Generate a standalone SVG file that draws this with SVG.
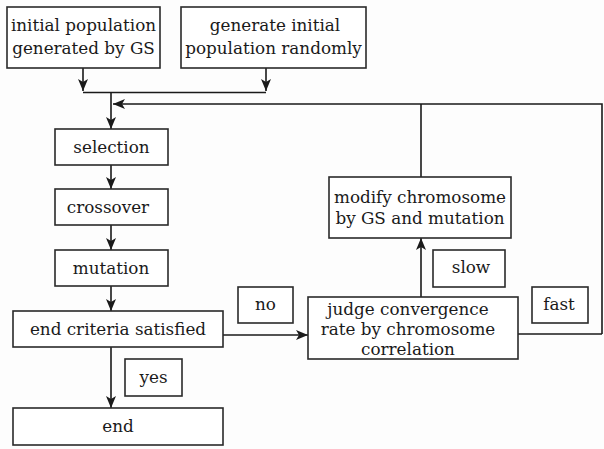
<svg xmlns="http://www.w3.org/2000/svg" width="604" height="449" viewBox="0 0 604 449">
<defs>
<marker id="ah" viewBox="0 0 12 10" refX="12" refY="5" markerWidth="12" markerHeight="10" markerUnits="userSpaceOnUse" orient="auto">
<path d="M0,0 L12,5 L0,10 L3,5 Z" fill="#1a1a1a"/>
</marker>
</defs>
<style>
rect{fill:#fff;stroke:#2a2a2a;stroke-width:1.6}
text{font-family:"DejaVu Serif","Liberation Serif",serif;font-size:16.8px;fill:#1a1a1a;text-anchor:middle}
.c{fill:none;stroke:#1a1a1a;stroke-width:1.6}
</style>
<rect x="0" y="0" width="604" height="449" style="fill:#fdfdfd;stroke:none"/>
<g id="connectors">
<path class="c" d="M83,68 V91" marker-end="url(#ah)"/>
<path class="c" d="M266,68 V91" marker-end="url(#ah)"/>
<path class="c" d="M83,92.5 H266"/>
<path class="c" d="M111,92.5 V129" marker-end="url(#ah)"/>
<path class="c" d="M602,334 V104 H113" marker-end="url(#ah)"/>
<path class="c" d="M421,104 V177"/>
<path class="c" d="M111,165 V189" marker-end="url(#ah)"/>
<path class="c" d="M111,225 V250" marker-end="url(#ah)"/>
<path class="c" d="M111,286 V311" marker-end="url(#ah)"/>
<path class="c" d="M111,347 V408" marker-end="url(#ah)"/>
<path class="c" d="M223,335 H308" marker-end="url(#ah)"/>
<path class="c" d="M421,297 V238" marker-end="url(#ah)"/>
<path class="c" d="M518,334 H602"/>
</g>
<g id="init-gs"><rect x="7" y="7" width="153" height="61"/><text x="83.5" y="31">initial population</text><text x="83.5" y="54">generated by GS</text></g>
<g id="init-random"><rect x="181" y="7" width="185" height="61"/><text x="275" y="31">generate initial</text><text x="273.5" y="54">population randomly</text></g>
<g id="selection"><rect x="55" y="129" width="113" height="36"/><text x="111.5" y="152.5">selection</text></g>
<g id="crossover"><rect x="55" y="189" width="113" height="36"/><text x="108" y="213">crossover</text></g>
<g id="mutation"><rect x="55" y="250" width="113" height="36"/><text x="111" y="273.5">mutation</text></g>
<g id="end-criteria"><rect x="13" y="311" width="210" height="36"/><text x="118" y="335">end criteria satisfied</text></g>
<g id="end"><rect x="13" y="408" width="210" height="37"/><text x="118" y="432">end</text></g>
<g id="yes"><rect x="125" y="359" width="57" height="37"/><text x="153.5" y="383">yes</text></g>
<g id="no"><rect x="238" y="287" width="55" height="36"/><text x="265.5" y="310">no</text></g>
<g id="judge"><rect x="308" y="297" width="210" height="62"/><text x="408" y="315">judge convergence</text><text x="408" y="335">rate by chromosome</text><text x="408" y="355">correlation</text></g>
<g id="modify"><rect x="329" y="177" width="182" height="61"/><text x="420" y="203">modify chromosome</text><text x="420" y="224">by GS and mutation</text></g>
<g id="slow"><rect x="433" y="250" width="72" height="37"/><text x="471" y="273">slow</text></g>
<g id="fast"><rect x="532" y="287" width="56" height="36"/><text x="559" y="310">fast</text></g>
</svg>
